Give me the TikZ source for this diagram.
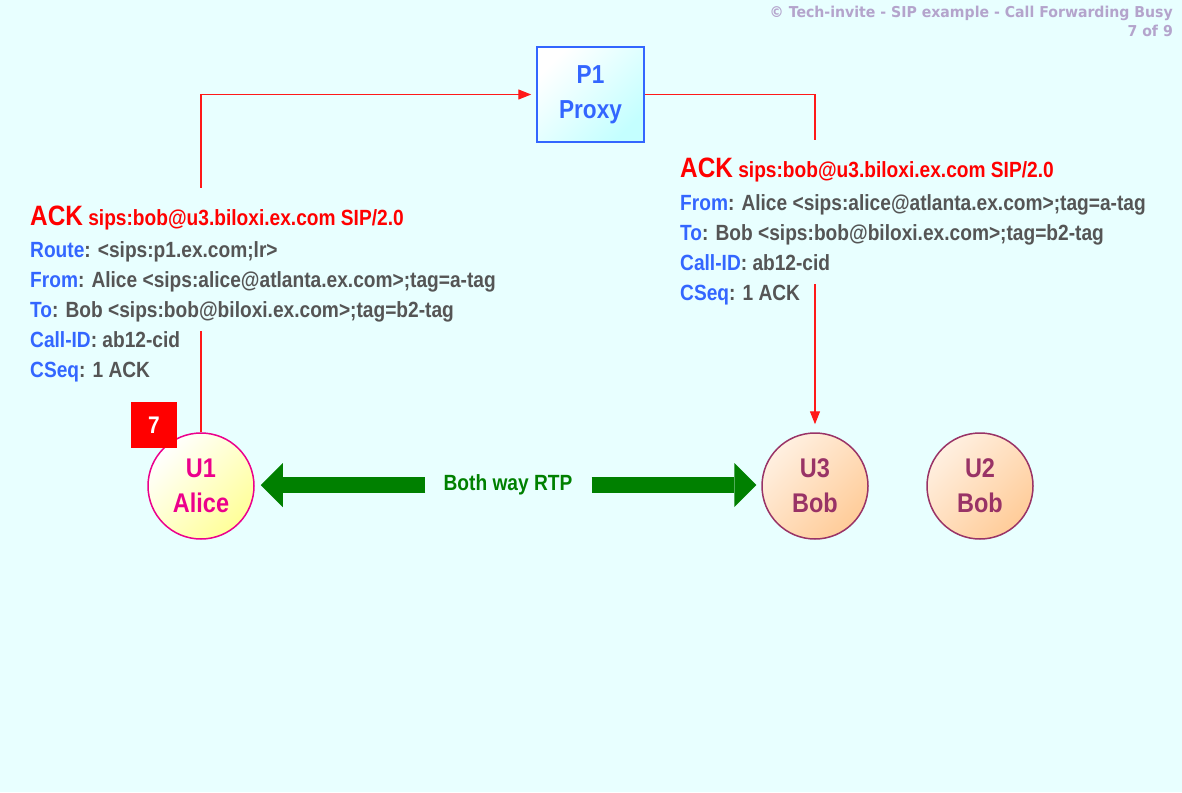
\documentclass[tikz,border=0pt]{standalone}
\usepackage{fontspec}
\setmainfont{Liberation Sans}[FakeStretch=0.87]
\newfontfamily\titlefont{DejaVu Sans}[FakeStretch=0.94]
\usetikzlibrary{arrows.meta}

\definecolor{bgcyan}{HTML}{E8FFFF}
\definecolor{sipblue}{HTML}{3366FF}
\definecolor{siptext}{HTML}{555555}
\definecolor{sipred}{HTML}{FF0000}
\definecolor{alicefill}{HTML}{FFFF99}
\definecolor{bobdraw}{HTML}{993366}
\definecolor{bobfill}{HTML}{FFCC99}
\definecolor{proxyfill}{HTML}{C4FFFF}
\definecolor{rtpgreen}{HTML}{008000}
\definecolor{titlegray}{HTML}{B4A4CC}

\newcommand{\sipfield}[1]{\textcolor{sipblue}{#1}}

\begin{document}
\begin{tikzpicture}[
    x=1pt, y=-1pt,
    alice node/.style={
        circle,
        draw=magenta,
        top color=white,
        bottom color=alicefill,
        shading angle=45,
        line width=1.5pt,
        minimum size=106pt,
        inner sep=0pt,
        align=center,
        text=magenta,
        font=\fontsize{27}{35}\selectfont\bfseries
    },
    bob node/.style={
        circle,
        draw=bobdraw,
        top color=bobfill!30,
        bottom color=bobfill,
        shading angle=45,
        line width=1.5pt,
        minimum size=106pt,
        inner sep=0pt,
        align=center,
        text=bobdraw,
        font=\fontsize{27}{35}\selectfont\bfseries
    },
    proxy node/.style={
        rectangle,
        draw=sipblue,
        top color=white,
        bottom color=proxyfill,
        shading angle=45,
        line width=1.5pt,
        minimum width=107pt,
        minimum height=95pt,
        inner sep=0pt,
        align=center,
        text=sipblue,
        font=\fontsize{26}{35}\selectfont\bfseries
    },
    num badge/.style={
        rectangle,
        fill=sipred,
        minimum size=46pt,
        inner sep=0pt,
        text=white,
        font=\fontsize{24}{24}\selectfont\bfseries
    },
    msg line/.style={
        draw=sipred!90,
        line width=1.2pt,
        -{Triangle[length=13pt, width=10pt]}
    },
    hdr line/.style={
        anchor=base west,
        inner xsep=0pt,
        inner ysep=7pt,
        text height=15pt,
        text depth=7pt,
        fill=bgcyan,
        text=siptext,
        font=\fontsize{22}{26}\selectfont\bfseries
    },
    ack line/.style={
        hdr line,
        text height=30pt,
        text=sipred
    },
    rtp label/.style={
        inner sep=0pt,
        text=rtpgreen,
        font=\fontsize{22}{26}\selectfont\bfseries
    },
    rtp arrow/.style={
        draw=rtpgreen,
        line width=15.5pt,
        -{Triangle[length=22pt, width=44pt, line width=0pt]}
    },
    title text/.style={
        anchor=base east,
        inner sep=0pt,
        text=titlegray,
        font=\fontsize{15}{19}\selectfont\titlefont\bfseries
    }
]

\path[fill=bgcyan, use as bounding box] (0,0) rectangle (1182,792);

%% --- Titre ---
\node[title text] (title) at (1173, 18) {\textcopyright{} Tech-invite - SIP example - Call Forwarding Busy};
\node[title text] (page)  at (1173, 37) {7 of 9};

%% --- Entites ---
\node[proxy node] (P1) at (590.5, 94.5) {P1\\Proxy};
\node[alice node] (U1) at (201, 486)    {U1\\Alice};
\node[bob node]   (U3) at (815, 486)    {U3\\Bob};
\node[bob node]   (U2) at (980, 486)    {U2\\Bob};
\node[num badge]  (N7) at (154, 425)    {7};

%% --- Message ACK : U1 -> P1 -> U3 ---
\draw[msg line, shorten >=5pt] (U1.north) |- (P1.west);
\draw[msg line, shorten >=8pt] (P1.east) -| (U3.north);

%% --- ACK envoye par U1 ---
\node[ack line] (ackL)   at (30, 225) {{\fontsize{28}{30}\selectfont ACK} {\fontsize{22}{26}\selectfont sips:bob@u3.biloxi.ex.com SIP/2.0}};
\node[hdr line] (routeL) at (30, 257) {\sipfield{Route}: <sips:p1.ex.com;lr>};
\node[hdr line] (fromL)  at (30, 287) {\sipfield{From}: Alice <sips:alice@atlanta.ex.com>;tag=a-tag};
\node[hdr line] (toL)    at (30, 317) {\sipfield{To}: Bob <sips:bob@biloxi.ex.com>;tag=b2-tag};
\node[hdr line] (cidL)   at (30, 347) {\sipfield{Call-ID}: ab12-cid};
\node[hdr line] (cseqL)  at (30, 377) {\sipfield{CSeq}: 1 ACK};

%% --- ACK relaye par P1 ---
\node[ack line] (ackR)   at (680, 177) {{\fontsize{28}{30}\selectfont ACK} {\fontsize{22}{26}\selectfont sips:bob@u3.biloxi.ex.com SIP/2.0}};
\node[hdr line] (fromR)  at (680, 210) {\sipfield{From}: Alice <sips:alice@atlanta.ex.com>;tag=a-tag};
\node[hdr line] (toR)    at (680, 240) {\sipfield{To}: Bob <sips:bob@biloxi.ex.com>;tag=b2-tag};
\node[hdr line] (cidR)   at (680, 270) {\sipfield{Call-ID}: ab12-cid};
\node[hdr line] (cseqR)  at (680, 300) {\sipfield{CSeq}: 1 ACK};

%% --- Flux RTP ---
\node[rtp label] (RTP) at (508, 485) {Both way RTP};
\draw[rtp arrow, shorten <=18pt, shorten >=6pt] (RTP.west) -- (RTP.west -| U1.east);
\draw[rtp arrow, shorten <=19pt, shorten >=5pt] (RTP.east) -- (RTP.east -| U3.west);

\end{tikzpicture}
\end{document}
